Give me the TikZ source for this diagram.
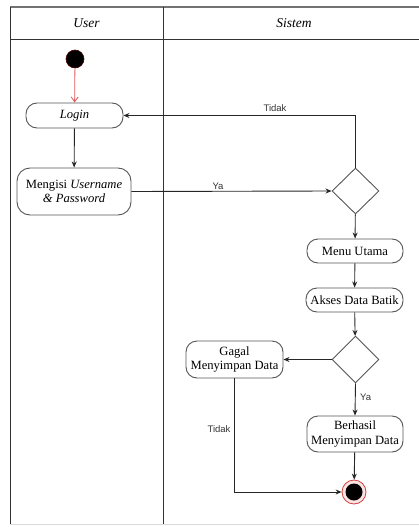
\documentclass[tikz,border=0pt]{standalone}
\usepackage{fontspec}
\setmainfont{Liberation Serif}
\newfontfamily\lblfont{Liberation Sans}
\usetikzlibrary{shapes.geometric,arrows.meta}
\definecolor{boxline}{HTML}{555555}
\definecolor{flowred}{HTML}{E05A5A}
\definecolor{endred}{HTML}{D04040}
\definecolor{endfill}{HTML}{FBE3E3}
\tikzset{
  act/.style={draw=boxline, line width=0.9pt, rounded corners=11pt, inner sep=0pt, align=center, font=\fontsize{12.6}{14.5}\selectfont, fill=white},
  dec/.style={draw=boxline, line width=0.9pt, diamond, inner sep=0pt, fill=white},
  flow/.style={draw=black!85, line width=0.9pt, -{Stealth[length=6pt,width=5pt]}},
  lbl/.style={font=\lblfont\fontsize{9.5}{11}\selectfont, text=black!80, inner sep=0pt},
  lane/.style={draw=black!80, line width=0.9pt},
  hdr/.style={font=\fontsize{13.5}{15}\selectfont\itshape, inner sep=0pt}
}
\begin{document}
\begin{tikzpicture}[x=1pt,y=-1pt]
\useasboundingbox (0,0) rectangle (419,527);
% swimlane frame
\draw[draw=black!55, line width=1.2pt] (10,7) -- (419,7);
\draw[lane] (10,7) -- (10,524);
\draw[lane] (163,7) -- (163,525);
\draw[lane] (10,39) -- (419,39);
\draw[draw=black!15, line width=0.8pt] (10,524) -- (419,524);
\node[hdr] (hu) at (86.5,23) {User};
\node[hdr] (hs) at (294,23) {Sistem};
% nodes
\node[circle, fill=black, draw=black!70!red, line width=0.6pt, minimum size=18pt, inner sep=0pt] (start) at (75,59) {};
\node[act, minimum width=97pt, minimum height=25pt] (login) at (74.5,115.5) {\textit{Login}};
\node[act, minimum width=114pt, minimum height=47pt, rounded corners=13pt] (isi) at (74,191.5) {Mengisi \textit{Username}\\\textit{\& Password}};
\node[dec, minimum width=47pt, minimum height=46pt] (d1) at (355.5,191) {};
\node[act, minimum width=96pt, minimum height=24pt] (menu) at (355,251) {Menu Utama};
\node[act, minimum width=97pt, minimum height=24pt] (akses) at (354.5,300) {Akses Data Batik};
\node[dec, minimum width=47pt, minimum height=47pt] (d2) at (355.5,359.5) {};
\node[act, minimum width=97pt, minimum height=37pt] (gagal) at (234.5,359.5) {Gagal\\Menyimpan Data};
\node[act, minimum width=96pt, minimum height=36pt] (ok) at (355,434) {Berhasil\\Menyimpan Data};
\node[circle, draw=endred, fill=endfill, line width=0.8pt, minimum size=24pt, inner sep=0pt] (end) at (354,492) {};
\node[circle, fill=black, minimum size=17pt, inner sep=0pt] (endin) at (354,492) {};
% connectors
\draw[draw=flowred, line width=0.8pt, -{Straight Barb[length=5pt,width=7pt]}] (start) -- (login);
\draw[flow] (login) -- (isi);
\draw[flow] (isi.east) -- (d1.west);
\node[lbl] (lya1) at (218,186) {Ya};
\draw[flow] (d1.north) |- (login.east);
\node[lbl] (ltd1) at (275,108) {Tidak};
\draw[flow] (d1) -- (menu);
\draw[flow] (menu) -- (akses);
\draw[flow] (akses) -- (d2);
\draw[flow] (d2.west) -- (gagal.east);
\draw[flow] (d2.south) -- (ok.north);
\node[lbl] (lya2) at (365.6,397) {Ya};
\draw[flow] (ok) -- (end);
\draw[flow] (gagal.south) |- (end.west);
\node[lbl] (ltd2) at (219,429) {Tidak};
\end{tikzpicture}
\end{document}
